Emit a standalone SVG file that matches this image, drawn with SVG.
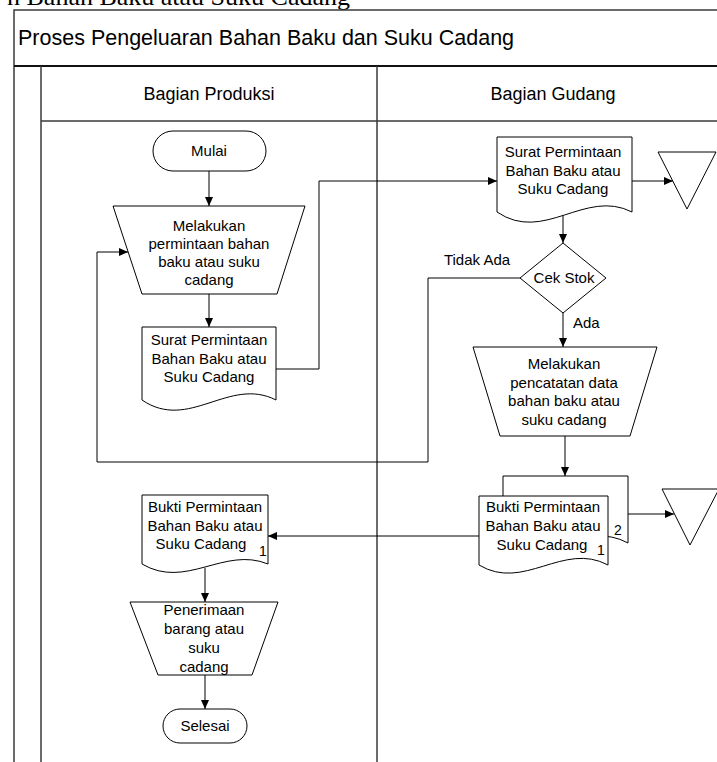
<svg xmlns="http://www.w3.org/2000/svg" width="717" height="762" viewBox="0 0 717 762">
  <style>
    .frame { fill: none; stroke: #3a3a3a; stroke-width: 1.5; }
    .frame-bold { fill: none; stroke: #111; stroke-width: 2; }
    .shape { fill: #fff; stroke: #000; stroke-width: 1; }
    .conn { fill: none; stroke: #000; stroke-width: 1; }
    .arrow { marker-end: url(#head); }
    text { font-family: "Liberation Sans", Arial, sans-serif; fill: #000; }
    .lbl { font-size: 15px; text-anchor: middle; }
    .lbl-l { font-size: 15px; }
    .num { font-size: 14px; text-anchor: middle; }
    .lane { font-size: 18px; text-anchor: middle; }
    .title { font-size: 21.5px; }
    .caption { font-family: "Liberation Serif", "Times New Roman", serif; font-size: 26px; text-anchor: end; }
  </style>
  <defs>
    <marker id="head" markerWidth="10" markerHeight="8" refX="9" refY="4" orient="auto" markerUnits="userSpaceOnUse">
      <path d="M0,0 L9,4 L0,8 Z" fill="#000"/>
    </marker>
  </defs>

  <rect width="717" height="762" fill="#fff"/>

  <!-- figure caption, cut off at the top edge -->
  <text class="caption" x="350" y="5">n Bahan Baku atau Suku Cadang</text>

  <!-- pool and lanes -->
  <g id="pool">
    <path class="frame" d="M14,762 V10 H717"/>
    <path class="frame-bold" d="M14,66 H717"/>
    <path class="frame" d="M41,762 V66"/>
    <path class="frame" d="M41,121 H717"/>
    <path class="frame" d="M377,762 V66"/>
    <text class="title" x="18" y="45">Proses Pengeluaran Bahan Baku dan Suku Cadang</text>
    <text class="lane" x="209" y="100">Bagian Produksi</text>
    <text class="lane" x="553" y="100">Bagian Gudang</text>
  </g>

  <!-- connectors -->
  <g id="connectors">
    <path class="conn arrow" d="M209,171 V206"/>
    <path class="conn arrow" d="M209,294 V327"/>
    <path class="conn arrow" d="M276,369 H319 V181 H497"/>
    <path class="conn arrow" d="M632,181 H673"/>
    <path class="conn arrow" d="M563,215 V243"/>
    <path class="conn arrow" d="M520,278 H428 V462 H97 V252 H128"/>
    <path class="conn arrow" d="M563,313 V347"/>
    <path class="conn arrow" d="M565,436 V476"/>
    <path class="conn arrow" d="M628,514 H674"/>
    <path class="conn arrow" d="M479,536 H268"/>
    <path class="conn arrow" d="M205,568 V602"/>
    <path class="conn arrow" d="M205,675 V709"/>
  </g>

  <!-- Bagian Produksi -->
  <g id="mulai">
    <rect class="shape" x="153" y="131" width="113" height="40" rx="20" ry="20"/>
    <text class="lbl" x="209" y="156">Mulai</text>
  </g>

  <g id="permintaan">
    <polygon class="shape" points="113,206 305,206 277,294 142,294"/>
    <text class="lbl" x="209" y="231">Melakukan</text>
    <text class="lbl" x="209" y="249">permintaan bahan</text>
    <text class="lbl" x="209" y="267">baku atau suku</text>
    <text class="lbl" x="209" y="285">cadang</text>
  </g>

  <g id="surat-produksi">
    <path class="shape" d="M142,327 H276 V400 C229,376 189,432 142,400 Z"/>
    <text class="lbl" x="209" y="345">Surat Permintaan</text>
    <text class="lbl" x="209" y="364">Bahan Baku atau</text>
    <text class="lbl" x="209" y="382">Suku Cadang</text>
  </g>

  <g id="bukti-produksi">
    <path class="shape" d="M142,495 H268 V564 C224,546 186,590 142,564 Z"/>
    <text class="lbl" x="205" y="512">Bukti Permintaan</text>
    <text class="lbl" x="205" y="531">Bahan Baku atau</text>
    <text class="lbl" x="201" y="549">Suku Cadang</text>
    <text class="num" x="263" y="556">1</text>
  </g>

  <g id="penerimaan">
    <polygon class="shape" points="130,602 278,602 252,675 158,675"/>
    <text class="lbl" x="204" y="615">Penerimaan</text>
    <text class="lbl" x="204" y="634">barang atau</text>
    <text class="lbl" x="204" y="653">suku</text>
    <text class="lbl" x="204" y="672">cadang</text>
  </g>

  <g id="selesai">
    <rect class="shape" x="163" y="709" width="84" height="34" rx="17" ry="17"/>
    <text class="lbl" x="205" y="731">Selesai</text>
  </g>

  <!-- Bagian Gudang -->
  <g id="surat-gudang">
    <path class="shape" d="M497,137 H632 V212 C585,188 544,244 497,212 Z"/>
    <text class="lbl" x="563" y="157">Surat Permintaan</text>
    <text class="lbl" x="563" y="176">Bahan Baku atau</text>
    <text class="lbl" x="563" y="194">Suku Cadang</text>
  </g>

  <g id="arsip-1">
    <polygon class="shape" points="658,152 716,152 687,209"/>
  </g>

  <g id="cek-stok">
    <polygon class="shape" points="520,278 563,243 606,278 563,313"/>
    <text class="lbl" x="564" y="283">Cek Stok</text>
  </g>

  <g id="label-tidak-ada">
    <text class="lbl" x="477" y="265">Tidak Ada</text>
  </g>

  <g id="label-ada">
    <text class="lbl-l" x="573" y="328">Ada</text>
  </g>

  <g id="pencatatan">
    <polygon class="shape" points="473,347 657,347 630,436 500,436"/>
    <text class="lbl" x="564" y="369">Melakukan</text>
    <text class="lbl" x="564" y="388">pencatatan data</text>
    <text class="lbl" x="564" y="406">bahan baku atau</text>
    <text class="lbl" x="564" y="425">suku cadang</text>
  </g>

  <g id="bukti-gudang">
    <path class="shape" d="M503,476 H628 V543 C584,519 547,567 503,543 Z"/>
    <path class="shape" d="M479,496 H608 V565 C563,541 524,592 479,565 Z"/>
    <text class="lbl" x="543" y="512">Bukti Permintaan</text>
    <text class="lbl" x="543" y="531">Bahan Baku atau</text>
    <text class="lbl" x="542" y="550">Suku Cadang</text>
    <text class="num" x="601" y="555">1</text>
    <text class="num" x="618" y="535">2</text>
  </g>

  <g id="arsip-2">
    <polygon class="shape" points="662,489 719,489 690,545"/>
  </g>
</svg>
